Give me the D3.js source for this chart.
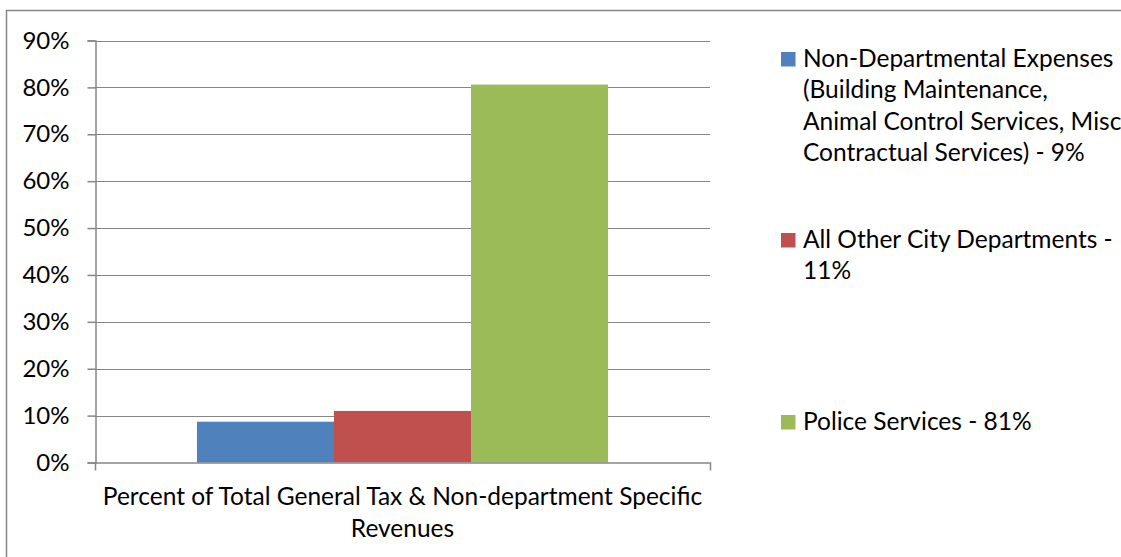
<!DOCTYPE html>
<html>
<head>
<meta charset="utf-8">
<script src="https://cdn.jsdelivr.net/npm/d3@7"></script>
<style>
  html, body { margin: 0; padding: 0; background: #fff; overflow: hidden; }
  svg { display: block; }
  text { font-family: Lato, "Open Sans", sans-serif; fill: #000; }
</style>
</head>
<body>
<svg id="chart" width="1121" height="557"></svg>
<script>
// ---- data ----
const categories = ["Percent of Total General Tax & Non-department Specific Revenues"];
const categoryLines = [["Percent of Total General Tax & Non-department Specific", "Revenues"]];
const seriesNames = [
  "Non-Departmental Expenses (Building Maintenance, Animal Control Services, Misc Contractual Services) - 9%",
  "All Other City Departments - 11%",
  "Police Services - 81%"
];
const seriesLegendLines = [
  ["Non-Departmental Expenses", "(Building Maintenance,", "Animal Control Services, Misc", "Contractual Services) - 9%"],
  ["All Other City Departments -", "11%"],
  ["Police Services - 81%"]
];
const seriesValues = [0.087, 0.110, 0.806];
const seriesColors = ["#4F81BD", "#C0504D", "#9BBB59"];
const yTicks = [0, 0.1, 0.2, 0.3, 0.4, 0.5, 0.6, 0.7, 0.8, 0.9];

// ---- layout ----
const svg = d3.select("#chart");
const plot = { left: 95, right: 710, top: 40.5, bottom: 462.5 };
const gridColor = "#868686";
const fontSize = 24.5;

// chart frame: only the left and top edges are inside the picture
svg.append("path")
  .attr("d", "M6.5,600 V10.5 H1200")
  .attr("fill", "none").attr("stroke", gridColor).attr("stroke-width", 1.5);

const y = d3.scaleLinear().domain([0, 0.9]).range([plot.bottom, plot.top]);
const x0 = d3.scaleBand().domain(categories).range([plot.left, plot.right])
  .paddingInner(0).paddingOuter(0.248);
const x1 = d3.scaleBand().domain(seriesNames).range([0, x0.bandwidth()]).padding(0);

// gridlines
svg.append("g").selectAll("line").data(yTicks.filter(d => d > 0)).join("line")
  .attr("x1", plot.left).attr("x2", plot.right)
  .attr("y1", d => Math.round(y(d)) + 0.5).attr("y2", d => Math.round(y(d)) + 0.5)
  .attr("stroke", gridColor).attr("stroke-width", 1);

// bars
const g = svg.append("g");
categories.forEach(cat => {
  g.selectAll("rect.bar").data(seriesValues).join("rect")
    .attr("class", "bar")
    .attr("x", (d, i) => x0(cat) + x1(seriesNames[i]))
    .attr("width", x1.bandwidth())
    .attr("y", d => y(d))
    .attr("height", d => y(0) - y(d))
    .attr("fill", (d, i) => seriesColors[i]);
});

// y axis
const yAxis = d3.axisLeft(y).tickValues(yTicks).tickFormat(d3.format(".0%"))
  .tickSize(8).tickPadding(18);
const ya = svg.append("g").attr("transform", `translate(${plot.left + 0.5},0)`).call(yAxis);
ya.select(".domain").attr("stroke", gridColor).attr("stroke-width", 1.5);
ya.selectAll(".tick line").attr("stroke", gridColor).attr("stroke-width", 1.5);
ya.selectAll(".tick text").attr("font-family", "Lato").attr("font-size", 24).attr("fill", "#000");

// x axis
const xAxis = d3.axisBottom(x0).tickValues([]).tickSizeOuter(8);
const xa = svg.append("g").attr("transform", `translate(0,${plot.bottom})`).call(xAxis);
xa.select(".domain").attr("stroke", gridColor).attr("stroke-width", 1.5);

// category labels (wrapped)
categories.forEach((cat, ci) => {
  const cx = x0(cat) + x0.bandwidth() / 2;
  const t = svg.append("text").attr("text-anchor", "middle")
    .attr("font-size", fontSize);
  categoryLines[ci].forEach((ln, li) => {
    t.append("tspan").attr("x", cx).attr("y", 505 + li * 31.5).text(ln);
  });
});

// legend
const legendY = [52, 233, 415];
seriesNames.forEach((name, i) => {
  const lg = svg.append("g").attr("transform", `translate(781,${legendY[i]})`);
  lg.append("rect").attr("width", 14.5).attr("height", 14.5).attr("fill", seriesColors[i]);
  const t = lg.append("text").attr("font-size", fontSize);
  seriesLegendLines[i].forEach((ln, li) => {
    t.append("tspan").attr("x", 22).attr("y", 14.5 + li * 31.5).text(ln);
  });
});
</script>
</body>
</html>
